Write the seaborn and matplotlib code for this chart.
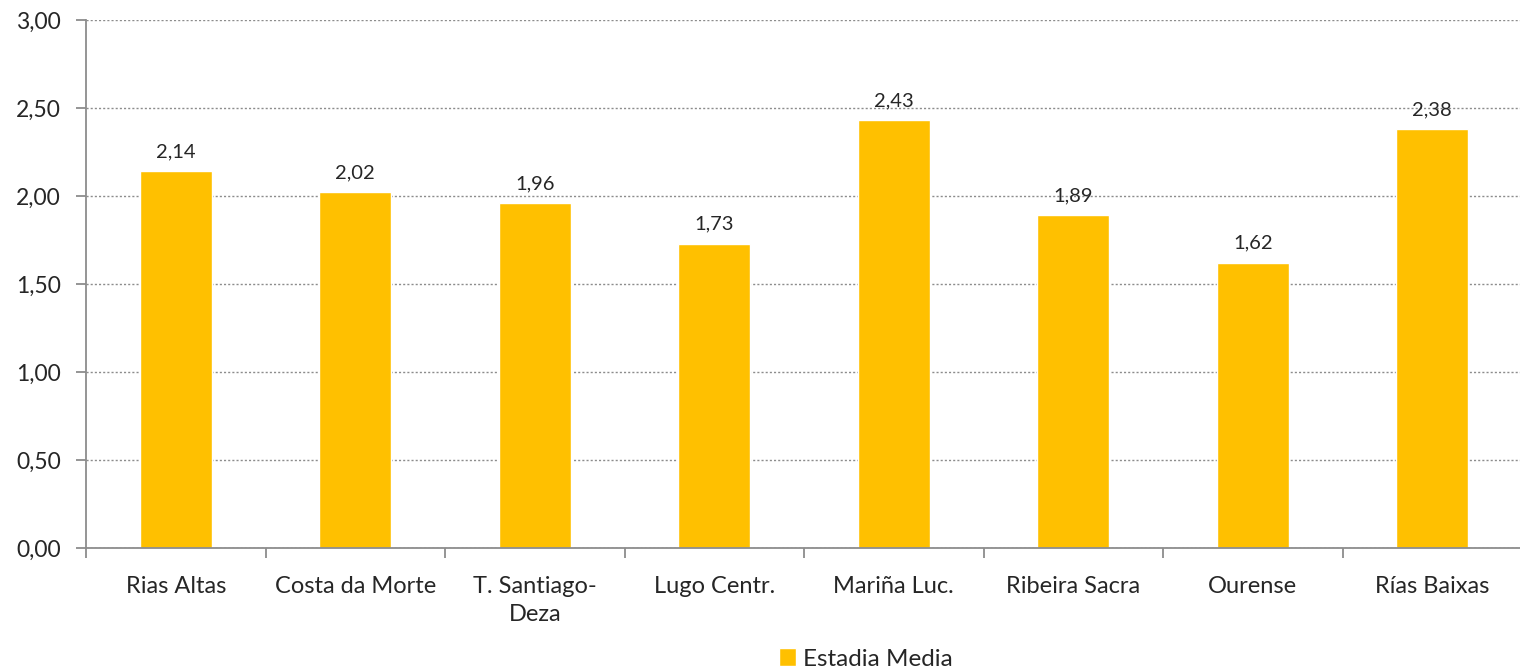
import matplotlib
matplotlib.use("Agg")
import matplotlib.pyplot as plt
import matplotlib.ticker as mticker
from matplotlib.patches import Patch
import numpy as np
import pandas as pd
import seaborn as sns

# datos
zonas = ["Rias Altas", "Costa da Morte", "T. Santiago-\nDeza", "Lugo Centr.",
         "Mariña Luc.", "Ribeira Sacra", "Ourense", "Rías Baixas"]
estadia = [2.14, 2.02, 1.96, 1.73, 2.43, 1.89, 1.62, 2.38]
serie = "Estadia Media"
yticks = [0.0, 0.5, 1.0, 1.5, 2.0, 2.5, 3.0]

amarillo = "#FFC000"
gris = "#8C8C8C"

sns.set_style("white")
plt.rcParams['font.family'] = ['Lato', 'DejaVu Sans']

df = pd.DataFrame({"zona": zonas, "valor": estadia})

fig = plt.figure(figsize=(15.2, 6.7), dpi=100)
ax = fig.add_axes([86 / 1520, 1 - 548 / 670, 1436 / 1520, 528 / 670])

sns.barplot(data=df, x="zona", y="valor", color=amarillo, width=0.4,
            saturation=1, ax=ax)

ax.set_ylim(0, 3)
ax.set_xlim(-0.5, len(zonas) - 0.5)
ax.set_yticks(yticks)
ax.yaxis.set_major_formatter(mticker.FuncFormatter(lambda v, p: f"{v:.2f}".replace(".", ",")))
ax.yaxis.grid(True, linestyle=(0, (1.5, 1.5)), color=gris, linewidth=1)
ax.set_axisbelow(True)

# ticks en los limites de categoria
ax.set_xticks(np.arange(-0.5, len(zonas), 1), minor=True)
ax.tick_params(axis="x", which="major", length=0, pad=20, labelsize=17)
ax.tick_params(axis="x", which="minor", length=7, width=1.3, color=gris, direction="out")
ax.tick_params(axis="y", length=7, width=1.3, color=gris, direction="out", labelsize=16.5, pad=11)
ax.tick_params(axis="both", bottom=True, left=True, which="both")
for lbl in ax.get_xticklabels():
    lbl.set_linespacing(1.45)

for s in ["top", "right"]:
    ax.spines[s].set_visible(False)
for s in ["left", "bottom"]:
    ax.spines[s].set_color(gris)
    ax.spines[s].set_linewidth(1.3)

ax.set_xlabel("")
ax.set_ylabel("")

# etiquetas de valor
for i, v in enumerate(estadia):
    ax.annotate(f"{v:.2f}".replace(".", ","), (i, v), xytext=(0, 8),
                textcoords="offset points", ha="center", va="bottom", fontsize=14.5)

fig.legend(handles=[Patch(facecolor=amarillo, label=serie)],
           loc="center", bbox_to_anchor=(866 / 1520, 1 - 659 / 670),
           frameon=False, fontsize=17.5, handlelength=0.7, handleheight=0.7,
           handletextpad=0.3, borderpad=0, borderaxespad=0)

fig.savefig("out.png", dpi=100)
